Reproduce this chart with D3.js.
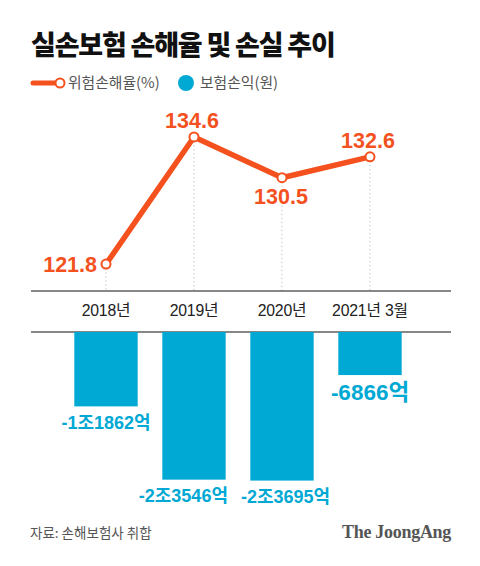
<!DOCTYPE html>
<html>
<head>
<meta charset="utf-8">
<script src="https://cdn.jsdelivr.net/npm/d3@7"></script>
<style>
  html, body { margin: 0; padding: 0; background: #fff; }
  svg { display: block; }
  .kr { font-family: "Noto Sans CJK KR", "Noto Sans", sans-serif; }
  .num { font-family: "Liberation Sans", Arial, "Noto Sans CJK KR", sans-serif; }
</style>
</head>
<body>
<div id="chart"></div>
<script>
// 데이터
const categories = ["2018년", "2019년", "2020년", "2021년 3월"];
const lossRatio = [121.8, 134.6, 130.5, 132.6];     // 위험손해율(%)
const insProfit = [-11862, -23546, -23695, -6866];  // 보험손익(억원)

const ORANGE = "#f4511e";
const BLUE = "#00a9d4";

const width = 480, height = 566;

const svg = d3.select("#chart").append("svg")
    .attr("width", width)
    .attr("height", height);

svg.append("rect").attr("width", width).attr("height", height).attr("fill", "#fff");

// 제목
svg.append("text")
    .attr("class", "kr")
    .attr("x", 31).attr("y", 55)
    .attr("font-size", 27)
    .attr("font-weight", 900)
    .attr("letter-spacing", -1.2)
    .attr("fill", "#111")
    .text("실손보험 손해율 및 손실 추이");

// 범례
const legend = svg.append("g").attr("transform", "translate(0,83)");
legend.append("line")
    .attr("x1", 33).attr("x2", 57)
    .attr("stroke", ORANGE).attr("stroke-width", 5).attr("stroke-linecap", "round");
legend.append("circle")
    .attr("cx", 60).attr("r", 4.5)
    .attr("fill", "#fff").attr("stroke", ORANGE).attr("stroke-width", 2);
legend.append("text")
    .attr("class", "kr")
    .attr("x", 68).attr("y", 5)
    .attr("font-size", 14.8).attr("fill", "#555")
    .text("위험손해율(%)");
legend.append("circle")
    .attr("cx", 186).attr("r", 8).attr("fill", BLUE);
legend.append("text")
    .attr("class", "kr")
    .attr("x", 200).attr("y", 5)
    .attr("font-size", 14.8).attr("fill", "#555")
    .text("보험손익(원)");

// 스케일
const x = d3.scaleBand()
    .domain(categories)
    .range([62, 414])
    .paddingInner(0.28)
    .paddingOuter(0.14);
const cx = d => x(d) + x.bandwidth() / 2;

const yLine = d3.scaleLinear().domain([120, 135]).range([282, 133]);
const yBar = d3.scaleLinear().domain([0, -24000]).range([332, 482.5]);

const axisY = 291;

// 점선 가이드
svg.append("g").selectAll("line")
    .data(categories)
    .join("line")
    .attr("x1", d => cx(d)).attr("x2", d => cx(d))
    .attr("y1", (d, i) => yLine(lossRatio[i]))
    .attr("y2", axisY)
    .attr("stroke", "#c8c8c8")
    .attr("stroke-width", 1)
    .attr("stroke-dasharray", "1.5,2.5");

// 가로 기준선
svg.append("line")
    .attr("x1", 31).attr("x2", 451)
    .attr("y1", axisY).attr("y2", axisY)
    .attr("stroke", "#111").attr("stroke-width", 1.2);
svg.append("line")
    .attr("x1", 31).attr("x2", 451)
    .attr("y1", yBar(0)).attr("y2", yBar(0))
    .attr("stroke", "#111").attr("stroke-width", 1.2);

// x축 라벨
const xAxis = d3.axisBottom(x).tickSize(0).tickPadding(0);
const gx = svg.append("g")
    .attr("transform", `translate(0,${axisY})`)
    .call(xAxis);
gx.select(".domain").remove();
gx.selectAll("text")
    .attr("class", "num")
    .attr("y", 25)
    .attr("dy", 0)
    .attr("font-size", 15.8)
    .attr("letter-spacing", -0.2)
    .attr("fill", "#222");

// 막대
svg.append("g").selectAll("rect")
    .data(categories)
    .join("rect")
    .attr("x", d => x(d))
    .attr("width", x.bandwidth())
    .attr("y", yBar(0))
    .attr("height", (d, i) => yBar(insProfit[i]) - yBar(0))
    .attr("fill", BLUE);

// 막대 라벨
function fmtProfit(v) {
    const a = Math.abs(v);
    const jo = Math.floor(a / 10000);
    const eok = a % 10000;
    return "-" + (jo ? jo + "조" : "") + eok + "억";
}
const barLabels = svg.append("g").selectAll("text")
    .data(categories)
    .join("text")
    .attr("class", "num")
    .attr("text-anchor", "middle")
    .attr("font-weight", "bold")
    .attr("fill", BLUE)
    .attr("font-size", (d, i) => Math.abs(insProfit[i]) < 10000 ? 22.5 : 18)
    .attr("x", d => cx(d))
    .attr("y", (d, i) => yBar(insProfit[i]) + (Math.abs(insProfit[i]) < 10000 ? 25 : 22.5))
    .text((d, i) => fmtProfit(insProfit[i]));

// 겹치는 라벨 밀어내기
const boxes = barLabels.nodes().map(n => ({ node: n, x: +n.getAttribute("x"), w: n.getComputedTextLength() }));
for (let i = 1; i < boxes.length; i++) {
    const a = boxes[i - 1], b = boxes[i];
    const ay = +a.node.getAttribute("y"), by = +b.node.getAttribute("y");
    if (Math.abs(ay - by) > 20) continue;
    const gap = (b.x - b.w / 2) - (a.x + a.w / 2);
    if (gap < 13) {
        const need = 13 - gap;
        a.x -= need * 0.75;
        b.x += need * 0.25;
        d3.select(a.node).attr("x", a.x);
        d3.select(b.node).attr("x", b.x);
    }
}

// 손해율 선
const line = d3.line()
    .x((d, i) => cx(categories[i]))
    .y(d => yLine(d));

svg.append("path")
    .datum(lossRatio)
    .attr("d", line)
    .attr("fill", "none")
    .attr("stroke", ORANGE)
    .attr("stroke-width", 5.5)
    .attr("stroke-linejoin", "round");

svg.append("g").selectAll("circle")
    .data(lossRatio)
    .join("circle")
    .attr("cx", (d, i) => cx(categories[i]))
    .attr("cy", d => yLine(d))
    .attr("r", 4.5)
    .attr("fill", "#fff")
    .attr("stroke", ORANGE)
    .attr("stroke-width", 2);

// 손해율 값 라벨: 첫 점은 왼쪽, 골짜기는 아래, 나머지는 위
svg.append("g").selectAll("text")
    .data(lossRatio)
    .join("text")
    .attr("class", "num")
    .attr("font-weight", "bold")
    .attr("font-size", 21.5)
    .attr("fill", ORANGE)
    .each(function (d, i) {
        const px = cx(categories[i]), py = yLine(d);
        const t = d3.select(this);
        const isValley = i > 0 && i < lossRatio.length - 1 && d < lossRatio[i - 1] && d < lossRatio[i + 1];
        if (i === 0) {
            t.attr("text-anchor", "end").attr("x", px - 9).attr("y", py + 8);
        } else if (isValley) {
            t.attr("text-anchor", "middle").attr("x", px - 1).attr("y", py + 26);
        } else {
            t.attr("text-anchor", "middle").attr("x", px - 2).attr("y", py - 9);
        }
    })
    .text(d => d.toFixed(1));

// 출처
svg.append("text")
    .attr("class", "kr")
    .attr("x", 30).attr("y", 538)
    .attr("font-size", 13.5)
    .attr("fill", "#555")
    .text("자료: 손해보험사 취합");

svg.append("text")
    .attr("x", 451).attr("y", 538)
    .attr("text-anchor", "end")
    .attr("font-family", "'Liberation Serif', 'DejaVu Serif', serif")
    .attr("font-weight", "bold")
    .attr("font-size", 18)
    .attr("letter-spacing", -0.3)
    .attr("fill", "#555")
    .text("The JoongAng");
</script>
</body>
</html>
